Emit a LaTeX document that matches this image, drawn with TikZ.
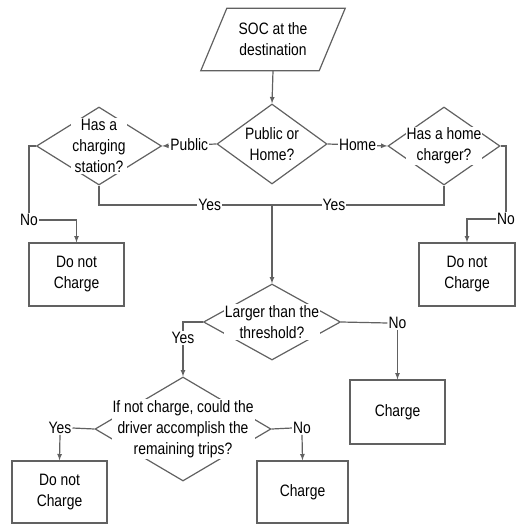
\documentclass[tikz,border=0pt]{standalone}
\usepackage{fontspec}
\setmainfont{Liberation Sans}[FakeStretch=0.84]
\usetikzlibrary{arrows}
\usetikzlibrary{shapes.geometric}

\begin{document}
\begin{tikzpicture}[x=1pt,y=-1pt,
  every node/.style={font=\fontsize{16.5}{21}\selectfont, text=black},
  line/.style={draw=black!62, line width=1.2pt},
  decision/.style={diamond, draw=black!62, line width=1.2pt, inner sep=0pt},
  question/.style={fill=white, inner sep=1pt, align=center},
  box/.style={rectangle, draw=black!62, line width=1.2pt, align=center},
  lbl/.style={fill=white, inner sep=1pt}]
  \useasboundingbox (0,0) rectangle (519,524);

  % input
  \node [minimum width=118pt, minimum height=62pt, align=center] (soc) at (273,39.5) {SOC at the\\destination};
  \draw [line] ([xshift=13pt]soc.north west) -- ([xshift=13pt]soc.north east)
    -- ([xshift=-13pt]soc.south east) -- ([xshift=-13pt]soc.south west) -- cycle;

  % decisions
  \node [decision, minimum width=110pt, minimum height=80pt] (pubhome) at (272,144) {};
  \node [question] at (pubhome) {Public or\\Home?};
  \node [decision, minimum width=125pt, minimum height=78pt] (station) at (99,146) {};
  \node [question] at (station) {Has a\\charging\\station?};
  \node [decision, minimum width=112pt, minimum height=78pt] (homechg) at (444,146) {};
  \node [question] at (homechg) {Has a home\\charger?};
  \node [decision, minimum width=137pt, minimum height=76pt] (larger) at (272,322) {};
  \node [question] at (larger) {Larger than the\\threshold?};
  \node [decision, minimum width=176pt, minimum height=104pt] (trips) at (183,429) {};
  \node [question] at (trips) {If not charge, could the\\driver accomplish the\\remaining trips?};

  % results
  \node [box, minimum width=95pt, minimum height=63pt] (dncL) at (76.5,274.5) {Do not\\Charge};
  \node [box, minimum width=96pt, minimum height=63pt] (dncR) at (467,274.5) {Do not\\Charge};
  \node [box, minimum width=95pt, minimum height=64pt] (chgA) at (397.5,412) {Charge};
  \node [box, minimum width=95pt, minimum height=62pt] (dncB) at (59.5,492) {Do not\\Charge};
  \node [box, minimum width=91pt, minimum height=62pt] (chgB) at (302.5,492) {Charge};

  % branch labels
  \node [lbl] (noL) at (29,220) {No};
  \node [lbl] (noR) at (506,219) {No};
  \node [lbl] (yesA) at (183,338) {Yes};
  \node [lbl] (noA) at (397.5,323) {No};
  \node [lbl] (yesB) at (60,428) {Yes};
  \node [lbl] (noB) at (302,428) {No};
  \coordinate (join) at (272,205);

  % connectors
  \draw [line, -latex] (soc.south) -- (pubhome.north);
  \draw [line, -latex] (pubhome.west) -- node [lbl] {Public} (station.east);
  \draw [line, -latex] (pubhome.east) -- node [lbl] {Home} (homechg.west);
  \draw [line] (station.south) |- node [lbl, pos=0.82] {Yes} (join);
  \draw [line] (homechg.south) |- node [lbl, pos=0.82] {Yes} (join);
  \draw [line, -latex] (join) -- (larger.north);
  \draw [line] (station.west) -| (noL.north);
  \draw [line, -latex] (noL.east) -| (dncL.north);
  \draw [line] (homechg.east) -| (noR.north);
  \draw [line, -latex] (noR.west) -| (dncR.north);
  \draw [line] (larger.west) -| (yesA.north);
  \draw [line, -latex] (yesA.south) -- (trips.north);
  \draw [line] (larger.east) -- (noA.west);
  \draw [line, -latex] (noA.south) -- (chgA.north);
  \draw [line] (trips.west) -- (yesB.east);
  \draw [line, -latex] (yesB.south) -- (dncB.north);
  \draw [line] (trips.east) -- (noB.west);
  \draw [line, -latex] (noB.south) -- (chgB.north);
\end{tikzpicture}
\end{document}
